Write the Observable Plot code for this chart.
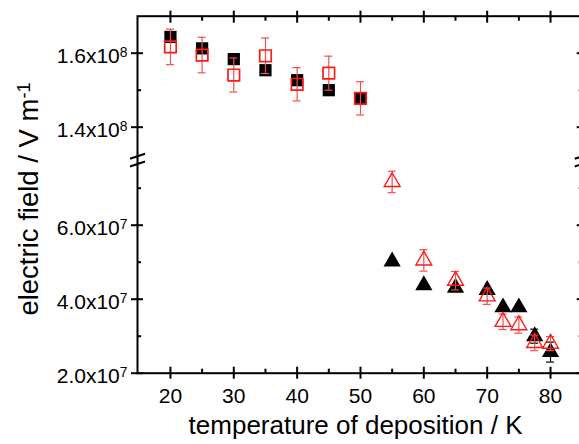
<!DOCTYPE html>
<html><head><meta charset="utf-8">
<script src="https://cdn.jsdelivr.net/npm/d3@7"></script>
<script src="https://cdn.jsdelivr.net/npm/@observablehq/plot@0.6"></script>
<style>body{margin:0;background:#fff;} svg{display:block;overflow:hidden}</style>
</head><body><div id="chart"></div>
<script>
// ---- data ----
const tempSquares = [20, 25, 30, 35, 40, 45, 50];
const fieldBlackSquares = [1.644e8, 1.613e8, 1.584e8, 1.554e8, 1.527e8, 1.500e8, 1.478e8];
const fieldRedSquares = [1.617e8, 1.595e8, 1.541e8, 1.593e8, 1.516e8, 1.546e8, 1.478e8];
const errRedSquares = [4.8e6, 4.8e6, 4.6e6, 4.8e6, 4.5e6, 4.6e6, 4.5e6];

const tempTriangles = [55, 60, 65, 70, 72.5, 75, 77.5, 80];
const fieldBlackTriangles = [5.02e7, 4.38e7, 4.31e7, 4.25e7, 3.78e7, 3.78e7, 3.00e7, 2.57e7];
const errBlackTriangles = [null, null, null, null, null, null, 1.9e6, 2.7e6];
const fieldRedTriangles = [7.17e7, 5.05e7, 4.50e7, 4.08e7, 3.39e7, 3.30e7, 2.82e7, 2.80e7];
const errRedTriangles = [2.9e6, 2.9e6, 2.5e6, 2.2e6, 2.1e6, 2.2e6, 2.1e6, 1.9e6];

const xTicksMajor = [20, 30, 40, 50, 60, 70, 80];
const xTicksMinor = [25, 35, 45, 55, 65, 75];
const yTicksMajor = [2e7, 4e7, 6e7, 1.4e8, 1.6e8];
const yTickLabels = ["2.0x10^7", "4.0x10^7", "6.0x10^7", "1.4x10^8", "1.6x10^8"];
const yTicksMinor = [3e7, 5e7, 7e7, 1.5e8];

const xTitle = "temperature of deposition / K";
const yTitle = "electric field / V m^-1";

// ---- broken axis ----
const BREAK_LO = 7.75e7, BREAK_HI = 1.31e8;
const fold = v => v >= BREAK_HI ? v - (BREAK_HI - BREAK_LO) : v;
const xDomain = [14.8, 85];
const yDomain = [2e7, fold(1.70e8)];

const labelMap = new Map(yTicksMajor.map((v, i) => [fold(v), yTickLabels[i]]));

const sqBlack = tempSquares.map((t, i) => ({t, v: fieldBlackSquares[i]}));
const sqRed = tempSquares.map((t, i) => ({t, v: fieldRedSquares[i], e: errRedSquares[i]}));
const triBlack = tempTriangles.map((t, i) => ({t, v: fieldBlackTriangles[i], e: errBlackTriangles[i]}));
const triRed = tempTriangles.map((t, i) => ({t, v: fieldRedTriangles[i], e: errRedTriangles[i]}));

const breakSymbol = {
  draw(ctx) {
    ctx.moveTo(-7.5, -1.7); ctx.lineTo(7.5, -6.7);
    ctx.moveTo(-7.5, 6); ctx.lineTo(7.5, 1);
  }
};

const CAP = 0.63;
function errorBars(data, color, width) {
  const d = data.filter(p => p.e != null);
  return [
    Plot.ruleX(d, {x: "t", y1: p => fold(p.v - p.e), y2: p => fold(p.v + p.e), stroke: color, strokeWidth: width}),
    Plot.ruleY(d, {y: p => fold(p.v + p.e), x1: p => p.t - CAP, x2: p => p.t + CAP, stroke: color, strokeWidth: width}),
    Plot.ruleY(d, {y: p => fold(p.v - p.e), x1: p => p.t - CAP, x2: p => p.t + CAP, stroke: color, strokeWidth: width})
  ];
}

const RED = "#ff1a1a";
const RED_BAR = "#f25050";

const chart = Plot.plot({
  width: 579,
  height: 444,
  marginLeft: 137,
  marginRight: -2.7,
  marginTop: 15.7,
  marginBottom: 71.3,
  style: {fontFamily: "'Liberation Sans', Arial, sans-serif", background: "white", color: "black", overflow: "hidden"},
  x: {domain: xDomain, axis: null},
  y: {domain: yDomain, axis: null},
  marks: [
    // data
    ...errorBars(triBlack, "black", 1.2),
    Plot.dot(sqBlack, {x: "t", y: d => fold(d.v), symbol: "square", r: 6.9, fill: "black"}),
    Plot.dot(triBlack, {x: "t", y: d => fold(d.v), symbol: "triangle", r: 6.4, fill: "black"}),
    ...errorBars(sqRed, RED_BAR, 1.2),
    ...errorBars(triRed, RED_BAR, 1.2),
    Plot.dot(sqRed, {x: "t", y: d => fold(d.v), symbol: "square", r: 6.5, fill: "none", stroke: RED, strokeWidth: 1.7}),
    Plot.dot(triRed, {x: "t", y: d => fold(d.v), symbol: "triangle", r: 5.9, fill: "none", stroke: RED, strokeWidth: 1.4}),

    // frame and ticks
    Plot.frame({stroke: "black", strokeWidth: 2}),
    Plot.axisX(xTicksMajor, {anchor: "bottom", tickSize: 12, dy: -6, fill: "none", label: null, strokeWidth: 2}),
    Plot.axisX(xTicksMajor, {anchor: "top", tickSize: 12, dy: 6, fill: "none", label: null, strokeWidth: 2}),
    Plot.axisX(xTicksMinor, {anchor: "bottom", tickSize: 4, dy: -4, fill: "none", label: null, strokeWidth: 2}),
    Plot.axisX(xTicksMinor, {anchor: "top", tickSize: 4, dy: 4, fill: "none", label: null, strokeWidth: 2}),
    Plot.axisX(xTicksMajor, {anchor: "bottom", tickSize: 0, tickPadding: 15.3, label: null, fontSize: 21, fill: "black", tickFormat: d => String(d)}),

    Plot.axisY(yTicksMajor.map(fold), {anchor: "left", tickSize: 12, dx: 6, fill: "none", label: null, strokeWidth: 2}),
    Plot.axisY(yTicksMajor.map(fold), {anchor: "right", tickSize: 12, dx: -6, fill: "none", label: null, strokeWidth: 2}),
    Plot.axisY(yTicksMinor.map(fold), {anchor: "left", tickSize: 4, dx: 4, fill: "none", label: null, strokeWidth: 2}),
    Plot.axisY(yTicksMinor.map(fold), {anchor: "right", tickSize: 4, dx: -4, fill: "none", label: null, strokeWidth: 2}),
    Plot.axisY(yTicksMajor.map(fold), {anchor: "left", tickSize: 0, tickPadding: 10, dy: 3, label: null, fontSize: 21, fill: "black", tickFormat: v => labelMap.get(v)}),

    // axis break marks
    Plot.dot([xDomain[0], xDomain[1]], {x: d => d, y: () => BREAK_LO, symbol: breakSymbol, r: 5, fill: "none", stroke: "black", strokeWidth: 2}),

    // titles
    Plot.text([xTitle], {frameAnchor: "bottom", dx: -4.3, dy: 52, fontSize: 26, textAnchor: "middle", lineAnchor: "middle", fill: "black"}),
    Plot.text([yTitle], {frameAnchor: "left", rotate: -90, dx: -108.8, dy: 4.3, fontSize: 27.5, textAnchor: "middle", lineAnchor: "middle", fill: "black"})
  ]
});

// superscripts: "a^b" -> a<tspan>b</tspan>
chart.querySelectorAll("text").forEach(t => {
  const s = t.textContent;
  if (!s.includes("^")) return;
  const [main, sup] = s.split("^");
  t.textContent = main;
  const ts = document.createElementNS("http://www.w3.org/2000/svg", "tspan");
  ts.setAttribute("dy", "-0.42em");
  ts.setAttribute("font-size", "0.66em");
  ts.textContent = sup;
  t.appendChild(ts);
});

document.getElementById("chart").appendChild(chart);
</script>
</body></html>
